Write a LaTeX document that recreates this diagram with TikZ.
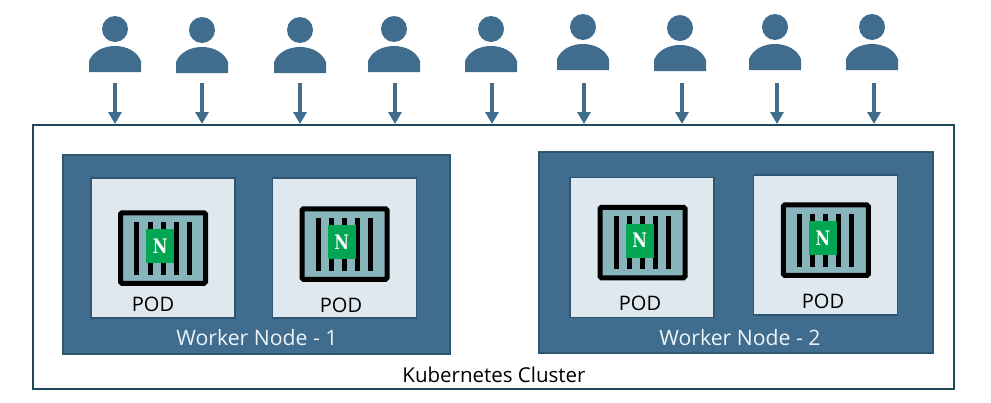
\documentclass[tikz,border=0pt]{standalone}
\usepackage{graphicx}
\usepackage{fontspec}
\setmainfont{Open Sans}
\usetikzlibrary{arrows.meta}
\definecolor{nodeblue}{HTML}{406D8E}
\definecolor{edgeblue}{HTML}{2F5670}
\definecolor{clusteredge}{HTML}{1F4A5A}
\definecolor{podfill}{HTML}{DFE8EF}
\definecolor{boxfill}{HTML}{88B4BC}
\definecolor{badge}{HTML}{00A651}
\definecolor{softwhite}{HTML}{EEF4F8}
\tikzset{
  cluster/.style={draw=clusteredge,line width=1.8pt,fill=white,minimum width=921pt,minimum height=264pt,inner sep=0pt},
  worker/.style={draw=edgeblue,line width=1.5pt,fill=nodeblue,inner sep=0pt},
  podbox/.style={draw=edgeblue,line width=1.2pt,fill=podfill,minimum width=144pt,minimum height=140pt,inner sep=0pt},
  boxnode/.style={draw=black,line width=5pt,fill=boxfill,rounded corners=1.5pt,minimum width=85pt,minimum height=70.5pt,inner sep=0pt},
  badgenode/.style={fill=badge,minimum width=28pt,minimum height=34pt,inner sep=0pt,text=white,font=\fontsize{20}{20}\fontspec{DejaVu Serif}\bfseries},
  caption/.style={inner sep=0pt,text=black,font=\fontsize{20}{22}\selectfont},
  whitecaption/.style={inner sep=0pt,text=softwhite,font=\fontsize{21.2}{24}\selectfont},
  flow/.style={draw=nodeblue,line width=3.5pt,-{Triangle[length=12pt,width=13pt]}}
}
\begin{document}
\begin{tikzpicture}[x=1pt,y=-1pt]
\useasboundingbox (0,0) rectangle (991,402);
\fill[white] (0,0) rectangle (991,402);

\node[cluster] (cluster) at (493.5,257) {};
\node[worker,minimum width=387pt,minimum height=199pt] (worker1) at (256.5,254.5) {};
\node[worker,minimum width=394pt,minimum height=201pt] (worker2) at (736,252.5) {};

% users and their arrows
\foreach \i/\x/\y/\tx in {1/115/72/115,2/202/73/202,3/300/73/300,4/394/72/395,5/491/72/492,6/583/70/584,7/680/71/682,8/775/70/777,9/872/70/874}{
  \fill[nodeblue] (\x,\y-43) circle (13);
  \fill[nodeblue] (\x-26,\y) -- (\x-26,\y-11) .. controls (\x-22,\y-21) and (\x-11,\y-26) .. (\x,\y-26)
    .. controls (\x+11,\y-26) and (\x+22,\y-21) .. (\x+26,\y-11) -- (\x+26,\y) -- cycle;
  \coordinate (user\i) at (\tx,83);
  \coordinate (entry\i) at (\tx,124);
  \draw[flow] (user\i) -- (entry\i);
}

% pods, each with its container
\foreach \i/\x/\y/\cx/\cy/\lx/\ly in {1/163/248/163/248/153/304,2/344.5/248/344.5/244/341/305,3/642/247.2/642.5/242.5/640/303,4/825.5/245/825.8/240.2/823/301}{
  \node[podbox] (pod\i) at (\x,\y) {};
  \node[boxnode] (box\i) at (\cx,\cy) {};
  \foreach \s in {-26.5,-13,0,13,26}
    \draw[black,line width=5pt] (\cx+\s,\cy-26.5) -- (\cx+\s,\cy+26.5);
  \node[badgenode] (badge\i) at (\cx-2.8,\cy-2) {\scalebox{.8}[1]{N}};
  \node[caption] (label\i) at (\lx,\ly) {POD};
}

\node[whitecaption] (title1) at (257,338) {Worker Node - 1};
\node[whitecaption] (title2) at (740,338) {Worker Node - 2};
\node[caption,font=\fontsize{20.5}{22}\selectfont] (title) at (494,375) {Kubernetes Cluster};
\end{tikzpicture}
\end{document}
